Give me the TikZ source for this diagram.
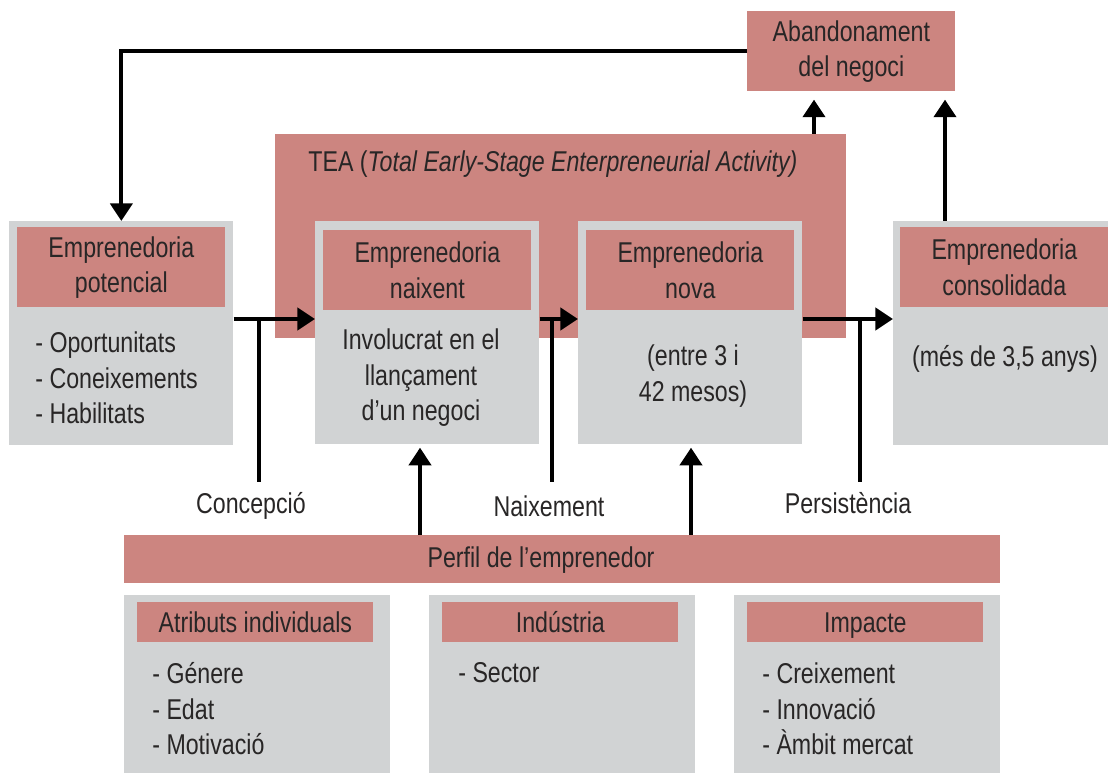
\documentclass[tikz,border=0pt]{standalone}
\usepackage{fontspec}
\setmainfont{Liberation Sans}[FakeStretch=0.81]
\usetikzlibrary{arrows.meta}
\definecolor{rosa}{RGB}{204,133,128}
\definecolor{gris}{RGB}{209,211,212}
\definecolor{tinta}{RGB}{40,38,38}
\newlength\px
\setlength\px{0.02cm}

\begin{document}
\begin{tikzpicture}[x=0.02cm, y=-0.02cm,
    every node/.style={text=tinta, font=\fontsize{16.3}{20.2}\selectfont},
    caixa/.style={fill=gris, inner sep=0, anchor=north west},
    capcal/.style={fill=rosa, inner sep=0, anchor=north west, align=center},
    llista/.style={inner sep=0, anchor=west, align=left},
    linia/.style={line width=2.3pt},
    fletxa/.style={line width=2.3pt, -{Triangle[length=10pt,width=12.5pt]}}]
		%%%%% START %%%%%
		\useasboundingbox (0,0) rectangle (1108,773);

		% abandonament i TEA
		\node[capcal, minimum width=208*\px, minimum height=80*\px] (aban) at (747,11) {Abandonament\\del negoci};
		\node[capcal, minimum width=571*\px, minimum height=204*\px] (tea) at (275,134) {};
		\node[inner sep=0, anchor=west] (teatxt) at (308,164) {TEA (\textit{Total Early-Stage Enterpreneurial Activity)}};

		% etapes
		\node[caixa, minimum width=224*\px, minimum height=224*\px] (pot) at (9,221) {};
		\node[capcal, minimum width=208*\px, minimum height=80*\px] (pothead) at (17,227) {Emprenedoria\\potencial};
		\node[llista] (pottxt) at (35,378) {- Oportunitats\\- Coneixements\\- Habilitats};

		\node[caixa, minimum width=224*\px, minimum height=223*\px] (naix) at (315,221) {};
		\node[capcal, minimum width=208*\px, minimum height=80*\px] (naixhead) at (323,230) {Emprenedoria\\naixent};
		\node[inner sep=0, align=center] (naixtxt) at (421,378) {Involucrat en el\\llançament\\d’un negoci};

		\node[caixa, minimum width=224*\px, minimum height=223*\px] (nova) at (578,221) {};
		\node[capcal, minimum width=208*\px, minimum height=80*\px] (novahead) at (586,230) {Emprenedoria\\nova};
		\node[inner sep=0, align=center] (novatxt) at (693,376) {(entre 3 i\\42 mesos)};

		\node[caixa, minimum width=215*\px, minimum height=224*\px] (cons) at (893,221) {};
		\node[capcal, minimum width=208*\px, minimum height=80*\px] (conshead) at (900,227) {Emprenedoria\\consolidada};
		\node[inner sep=0] (constxt) at (1005,359) {(més de 3,5 anys)};

		% perfil
		\node[capcal, minimum width=876*\px, minimum height=48*\px] (perfil) at (124,535) {};
		\node[inner sep=0] (perfiltxt) at (541,560) {Perfil de l’emprenedor};

		\node[caixa, minimum width=266*\px, minimum height=178*\px] (atrib) at (124,595) {};
		\node[capcal, minimum width=236*\px, minimum height=40*\px] (atribhead) at (137,602) {Atributs individuals};
		\node[llista] (atribtxt) at (152,709) {- Génere\\- Edat\\- Motivació};

		\node[caixa, minimum width=266*\px, minimum height=178*\px] (indus) at (429,595) {};
		\node[capcal, minimum width=236*\px, minimum height=40*\px] (idushead) at (442,602) {Indústria};
		\node[llista] (industxt) at (458,673) {- Sector};

		\node[caixa, minimum width=266*\px, minimum height=178*\px] (impac) at (734,595) {};
		\node[capcal, minimum width=236*\px, minimum height=40*\px, text depth=0pt] (impachead) at (747,602) {Impacte};
		\node[llista] (impactxt) at (762,709) {- Creixement\\- Innovació\\- Àmbit mercat};

		% etiquetes
		\node[inner sep=0] (concepcio) at (251,506) {Concepció};
		\node[inner sep=0] (naixement) at (549,506) {Naixement};
		\node[inner sep=0] (persist) at (848,503) {Persistència};

		% fletxes
		\coordinate (fila) at (0,319);
		\coordinate (cConc) at (259,482);
		\coordinate (cNaix) at (552,482);
		\coordinate (cPers) at (860,482);
		\coordinate (pTEA) at (814,134);
		\coordinate (pCons) at (945,221);
		\coordinate (pPerfA) at (420,535);
		\coordinate (pPerfB) at (691,535);

		\draw[fletxa] (aban.west) -| (pot.north);
		\draw[fletxa, shorten >=4.5pt] (pTEA) -- (pTEA |- aban.south);
		\draw[fletxa, shorten >=4.5pt] (pCons) -- (pCons |- aban.south);

		\draw[fletxa] (pot.east |- fila) -- (naix.west |- fila);
		\draw[fletxa] (naix.east |- fila) -- (nova.west |- fila);
		\draw[fletxa] (nova.east |- fila) -- (cons.west |- fila);
		\draw[linia] (cConc |- fila) -- (cConc);
		\draw[linia] (cNaix |- fila) -- (cNaix);
		\draw[linia] (cPers |- fila) -- (cPers);

		\draw[fletxa, shorten >=1.7pt] (pPerfA) -- (pPerfA |- naix.south);
		\draw[fletxa, shorten >=1.7pt] (pPerfB) -- (pPerfB |- nova.south);
		%%%%% END %%%%%
\end{tikzpicture}
\end{document}
